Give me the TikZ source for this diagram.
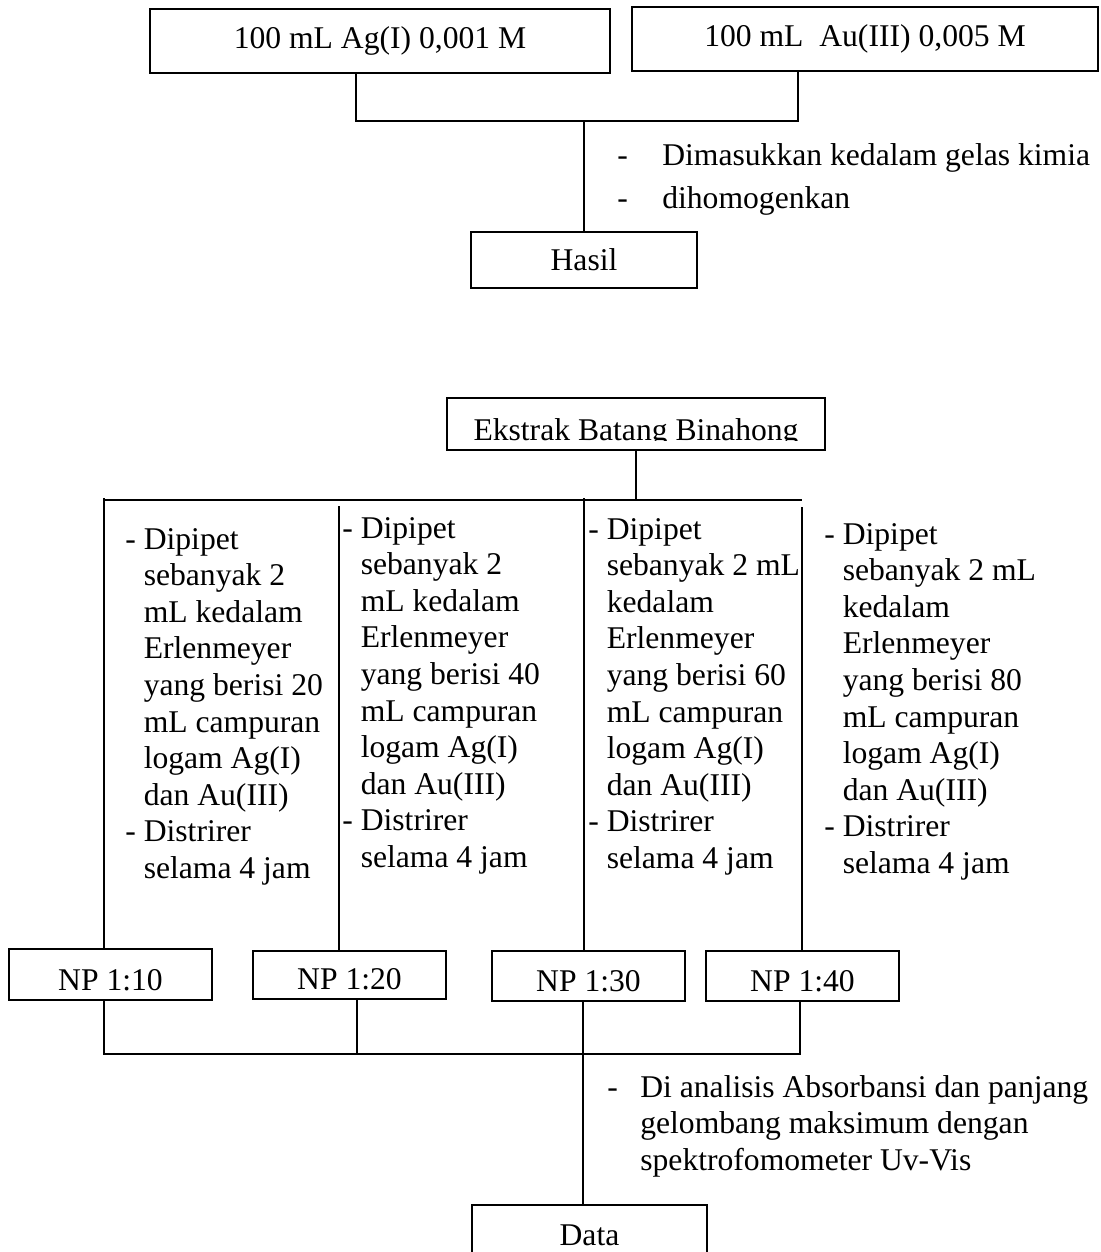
\documentclass[tikz,border=0pt]{standalone}
\usepackage{fontspec}
\setmainfont{Liberation Serif}
\usetikzlibrary{positioning}

\begin{document}
\begin{tikzpicture}[
  x=0.02cm, y=-0.02cm,
  every node/.style={font=\fontsize{18}{20.8}\selectfont},
  box/.style={rectangle, draw, line width=1pt, inner sep=0pt},
  cutbox/.style={box, path picture={
      \clip ([yshift=0.2cm]path picture bounding box.south west) rectangle (path picture bounding box.north east);
      \node[draw=none, fill=none, inner sep=0pt, minimum width=0pt, minimum height=0pt, anchor=base]
        at ([yshift=0.2cm]path picture bounding box.south) {#1};}},
  steps/.style={align=left, inner sep=0pt, anchor=north west},
  link/.style={line width=0.8pt}
]
\useasboundingbox (0,0) rectangle (1101,1252);
\clip (0,0) rectangle (1101,1252);

% Mixing the metal solutions
\node[box, minimum width=9.2cm, minimum height=1.28cm] (ag) at (380,41) {100 mL Ag(I) 0,001 M};
\node[box, minimum width=9.32cm, minimum height=1.28cm] (au) at (865,39) {100 mL~ Au(III) 0,005 M};
\node[box, minimum width=4.52cm, minimum height=1.12cm] (hasil) at (584,260) {Hasil};

\coordinate (jL) at (356,121);
\coordinate (jR) at (798,121);
\draw[link] (ag.south -| jL) -- (jL) -- (jR) -- (au.south -| jR);
\draw[link] (hasil.north |- jL) -- (hasil.north);

\node[steps, font=\fontsize{18}{24.4}\selectfont] (mix) at (617,143)
  {\makebox[0.9cm][l]{-}Dimasukkan kedalam gelas kimia\\\makebox[0.9cm][l]{-}dihomogenkan};

% Extract and the four ratios
\node[cutbox={Ekstrak Batang Binahong}, minimum width=7.56cm, minimum height=1.04cm] (ekstrak) at (636,424) {};

\coordinate (bar1) at (103,500);
\coordinate (bar2) at (802,500);
\draw[link] (ekstrak.south) -- (ekstrak.south |- bar1);
\draw[link] (bar1) -- (bar2);

\node[cutbox={NP 1:10}, minimum width=4.06cm, minimum height=1.02cm] (np10) at (110.5,974.5) {};
\node[cutbox={NP 1:20}, minimum width=3.86cm, minimum height=0.96cm] (np20) at (349.5,975) {};
\node[cutbox={NP 1:30}, minimum width=3.86cm, minimum height=1cm] (np30) at (588.5,976) {};
\node[cutbox={NP 1:40}, minimum width=3.86cm, minimum height=1cm] (np40) at (802.5,976) {};

\coordinate (t1) at (104,498);
\coordinate (t2) at (339,506);
\coordinate (t3) at (584,498);
\coordinate (t4) at (802,507);
\draw[link] (t1) -- (t1 |- np10.north);
\draw[link] (t2) -- (t2 |- np20.north);
\draw[link] (t3) -- (t3 |- np30.north);
\draw[link] (t4) -- (t4 |- np40.north);

\node[steps] (col1) at (125,528)
  {- Dipipet\\\phantom{- }sebanyak 2\\\phantom{- }mL kedalam\\\phantom{- }Erlenmeyer\\\phantom{- }yang berisi 20\\\phantom{- }mL campuran\\\phantom{- }logam Ag(I)\\\phantom{- }dan Au(III)\\- Distrirer\\\phantom{- }selama 4 jam};
\node[steps] (col2) at (342,517)
  {- Dipipet\\\phantom{- }sebanyak 2\\\phantom{- }mL kedalam\\\phantom{- }Erlenmeyer\\\phantom{- }yang berisi 40\\\phantom{- }mL campuran\\\phantom{- }logam Ag(I)\\\phantom{- }dan Au(III)\\- Distrirer\\\phantom{- }selama 4 jam};
\node[steps] (col3) at (588,518)
  {- Dipipet\\\phantom{- }sebanyak 2 mL\\\phantom{- }kedalam\\\phantom{- }Erlenmeyer\\\phantom{- }yang berisi 60\\\phantom{- }mL campuran\\\phantom{- }logam Ag(I)\\\phantom{- }dan Au(III)\\- Distrirer\\\phantom{- }selama 4 jam};
\node[steps] (col4) at (824,523)
  {- Dipipet\\\phantom{- }sebanyak 2 mL\\\phantom{- }kedalam\\\phantom{- }Erlenmeyer\\\phantom{- }yang berisi 80\\\phantom{- }mL campuran\\\phantom{- }logam Ag(I)\\\phantom{- }dan Au(III)\\- Distrirer\\\phantom{- }selama 4 jam};

% Joining the ratios for analysis
\node[cutbox={Data}, minimum width=4.7cm, minimum height=1cm] (data) at (589.5,1230) {};

\coordinate (b1) at (104,1054);
\coordinate (b2) at (357,1054);
\coordinate (b3) at (583,1054);
\coordinate (b4) at (800,1054);
\draw[link] (np10.south -| b1) -- (b1) -- (b4) -- (np40.south -| b4);
\draw[link] (np20.south -| b2) -- (b2);
\draw[link] (np30.south -| b3) -- (data.north -| b3);

\node[steps] (analisis) at (607,1075)
  {\makebox[0.66cm][l]{-}Di analisis Absorbansi dan panjang\\\makebox[0.66cm]{}gelombang maksimum dengan\\\makebox[0.66cm]{}spektrofomometer Uv-Vis};

\end{tikzpicture}
\end{document}
